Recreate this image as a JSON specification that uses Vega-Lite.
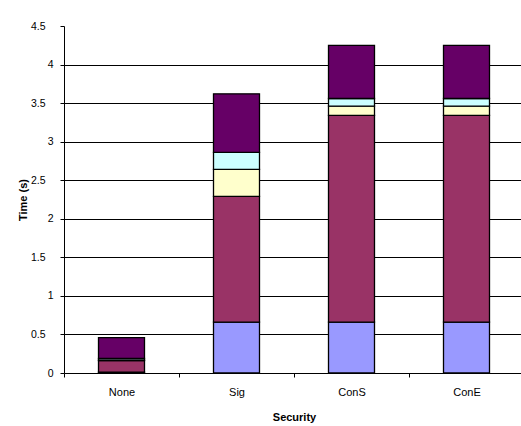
{
  "$schema": "https://vega.github.io/schema/vega-lite/v6.json",
  "width": 439,
  "height": 347,
  "autosize": "none",
  "padding": {"left": 64, "top": 26, "right": 18, "bottom": 53},
  "background": "white",
  "config": {
    "view": {"stroke": null},
    "font": "Liberation Sans"
  },
  "data": {
    "values": [
      {"security": "None", "part": "p1", "time": 0.01},
      {"security": "None", "part": "p2", "time": 0.15},
      {"security": "None", "part": "p3", "time": 0.01},
      {"security": "None", "part": "p4", "time": 0.02},
      {"security": "None", "part": "p5", "time": 0.27},
      {"security": "Sig", "part": "p1", "time": 0.66},
      {"security": "Sig", "part": "p2", "time": 1.63},
      {"security": "Sig", "part": "p3", "time": 0.35},
      {"security": "Sig", "part": "p4", "time": 0.22},
      {"security": "Sig", "part": "p5", "time": 0.76},
      {"security": "ConS", "part": "p1", "time": 0.66},
      {"security": "ConS", "part": "p2", "time": 2.68},
      {"security": "ConS", "part": "p3", "time": 0.12},
      {"security": "ConS", "part": "p4", "time": 0.1},
      {"security": "ConS", "part": "p5", "time": 0.69},
      {"security": "ConE", "part": "p1", "time": 0.66},
      {"security": "ConE", "part": "p2", "time": 2.68},
      {"security": "ConE", "part": "p3", "time": 0.12},
      {"security": "ConE", "part": "p4", "time": 0.1},
      {"security": "ConE", "part": "p5", "time": 0.69}
    ]
  },
  "mark": {"type": "bar", "size": 46, "stroke": "black", "strokeWidth": 1.3},
  "encoding": {
    "x": {
      "field": "security",
      "type": "nominal",
      "sort": ["None", "Sig", "ConS", "ConE"],
      "scale": {"range": [0, 460], "paddingInner": 0, "paddingOuter": 0},
      "axis": {
        "title": "Security",
        "labelAngle": 0,
        "domain": false,
        "grid": false,
        "tickBand": "extent",
        "ticks": true,
        "tickSize": 4,
        "tickWidth": 1,
        "tickColor": "black",
        "labelColor": "black",
        "labelFontSize": 11,
        "labelPadding": 9,
        "titleFontSize": 11,
        "titleFontWeight": "bold",
        "titleColor": "black",
        "titleY": 38
      }
    },
    "y": {
      "field": "time",
      "type": "quantitative",
      "stack": "zero",
      "scale": {"domain": [0, 4.5], "nice": false},
      "axis": {
        "title": "Time (s)",
        "values": [0, 0.5, 1, 1.5, 2, 2.5, 3, 3.5, 4, 4.5],
        "format": "~g",
        "domainColor": "black",
        "domainWidth": 1,
        "tickColor": "black",
        "tickSize": 4,
        "grid": true,
        "gridColor": {"condition": {"test": "datum.value >= 4.5", "value": "transparent"}, "value": "black"},
        "labelColor": "black",
        "labelFontSize": 10.5,
        "labelPadding": {"condition": {"test": "datum.value % 1 === 0", "value": 7}, "value": 15},
        "titleFontSize": 11,
        "titleFontWeight": "bold",
        "titleColor": "black",
        "titleX": -36,
        "titleY": 173.5
      }
    },
    "color": {
      "field": "part",
      "type": "nominal",
      "scale": {
        "domain": ["p1", "p2", "p3", "p4", "p5"],
        "range": ["#9999FF", "#993366", "#FFFFCC", "#CCFFFF", "#660066"]
      },
      "legend": null
    },
    "order": {"field": "part", "type": "ordinal", "sort": "ascending"}
  }
}
